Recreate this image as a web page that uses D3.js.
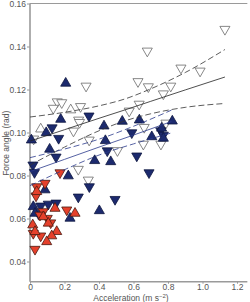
<!DOCTYPE html>
<html>
<head>
<meta charset="utf-8">
<script src="https://cdn.jsdelivr.net/npm/d3@7"></script>
<style>
  body { margin: 0; background: #fff; }
  svg { display: block; font-family: Arial, "Liberation Sans", sans-serif; }
</style>
</head>
<body>
<div id="chart"></div>
<script>
// points as [acceleration, force angle]
const redUp = [
  [0.039, 0.0725], [0.077, 0.0608], [0.261, 0.0624], [0.145, 0.0647],
  [0.016, 0.0570], [0.029, 0.0539], [0.155, 0.0539], [0.126, 0.0519],
  [0.097, 0.0492], [0.106, 0.0578]
];
const redDown = [
  [0.174, 0.0813], [0.087, 0.0764], [0.039, 0.0748], [0.035, 0.0705],
  [0.077, 0.0632], [0.058, 0.0616], [0.100, 0.0601], [0.120, 0.0580],
  [0.213, 0.0640], [0.019, 0.0531], [0.062, 0.0519], [0.029, 0.0457]
];
const navyUp = [
  [0.207, 0.1229], [0.178, 0.1061], [0.094, 0.0999], [0.008, 0.0965],
  [0.429, 0.1030], [0.535, 0.1052], [0.437, 0.0962], [0.114, 0.0922],
  [0.375, 0.0869], [0.468, 0.0864], [0.222, 0.0798], [0.087, 0.0733],
  [0.019, 0.0655], [0.029, 0.0624], [0.232, 0.0601], [0.402, 0.0636],
  [0.634, 0.1058], [0.825, 0.1053], [0.706, 0.0980], [0.763, 0.1020],
  [0.773, 0.0973]
];
const navyDown = [
  [0.342, 0.1077], [0.128, 0.1022], [0.166, 0.0973], [0.151, 0.0886],
  [0.448, 0.0915], [0.017, 0.0849], [0.026, 0.0814], [0.344, 0.0748],
  [0.280, 0.0700], [0.493, 0.0689], [0.062, 0.0658], [0.106, 0.0667],
  [0.151, 0.0672], [0.048, 0.0624], [0.590, 0.0999], [0.758, 0.1008],
  [0.773, 0.0988], [0.619, 0.0891], [0.690, 0.0813]
];
const whiteDown = [
  [1.130, 0.1480], [0.680, 0.1379], [0.875, 0.1300], [0.986, 0.1286],
  [0.626, 0.1237], [0.686, 0.1213], [0.816, 0.1216], [0.773, 0.1180],
  [0.633, 0.1132], [0.575, 0.1100], [0.662, 0.1024], [0.788, 0.1044],
  [0.657, 0.0946], [0.759, 0.0946], [0.325, 0.1216], [0.158, 0.1143],
  [0.184, 0.1139], [0.135, 0.1113], [0.293, 0.1121], [0.282, 0.1058],
  [0.287, 0.1047], [0.252, 0.1007], [0.021, 0.0970], [0.343, 0.0965],
  [0.507, 0.0916], [0.280, 0.0829], [0.338, 0.0779]
];
const whiteUp = [[0.236, 0.1105], [0.062, 0.1016]];

// fitted lines
const fitX = [0, 0.2, 0.4, 0.55, 0.7, 0.9, 1.13];
const fitMid = [0.0960, 0.1013, 0.1066, 0.1105, 0.1145, 0.1198, 0.1258];
const fitHi = [0.1072, 0.1094, 0.1124, 0.1156, 0.1203, 0.1279, 0.1386];
const fitLo = [0.0848, 0.0932, 0.1008, 0.1054, 0.1087, 0.1117, 0.1135];

const navyFitX = [0, 0.2, 0.4, 0.6, 0.82];
const navyMid = [0.0818, 0.0875, 0.0932, 0.0988, 0.1051];
const navyHi = [0.0883, 0.0923, 0.0969, 0.1029, 0.1104];
const navyLo = [0.0753, 0.0827, 0.0895, 0.0947, 0.0998];

const xTicks = [0, 0.2, 0.4, 0.6, 0.8, 1.0, 1.2];
const yTicks = [0.04, 0.06, 0.08, 0.10, 0.12, 0.14, 0.16];

const width = 250, height = 302;
const NAVY = '#1c2a6e', RED = '#e5402b';

const svg = d3.select('#chart').append('svg')
  .attr('width', width)
  .attr('height', height);

const x = d3.scaleLinear().domain([0, 1.2]).range([30, 237]);
const y = d3.scaleLinear().domain([0.04, 0.16]).range([261.5, 3.5]);
const xEnd = x(1.26);
const yBottom = y(0.0306);

// frame: left axis, bottom axis, top line
svg.append('line')
  .attr('x1', x(0)).attr('x2', xEnd)
  .attr('y1', y(0.16)).attr('y2', y(0.16))
  .attr('stroke', '#9a9a9a').attr('stroke-width', 1);

const yAxis = svg.append('g')
  .attr('transform', `translate(${x(0)},0)`)
  .call(d3.axisLeft(y).tickValues(yTicks).tickSize(3)
    .tickFormat(d3.format('.2f')));
yAxis.select('.domain').remove();
yAxis.append('line')
  .attr('x1', 0).attr('x2', 0)
  .attr('y1', y(0.16)).attr('y2', yBottom)
  .attr('stroke', '#9a9a9a').attr('stroke-width', 1.6);

const xAxis = svg.append('g')
  .attr('transform', `translate(0,${yBottom})`)
  .call(d3.axisBottom(x).tickValues(xTicks).tickSize(2)
    .tickFormat(d => d === 0 ? '0' : d3.format('.1f')(d)));
xAxis.select('.domain').remove();
xAxis.append('line')
  .attr('x1', x(0)).attr('x2', xEnd)
  .attr('y1', 0).attr('y2', 0)
  .attr('stroke', '#9a9a9a').attr('stroke-width', 1.4);

svg.selectAll('.tick line').attr('stroke', '#9a9a9a');
svg.selectAll('.tick text')
  .attr('fill', '#555')
  .style('font-size', '8.5px')
  .style('font-family', 'Arial, "Liberation Sans", sans-serif');
yAxis.selectAll('.tick text').attr('x', -4);
xAxis.selectAll('.tick text').attr('y', 2.5);

svg.append('text')
  .attr('transform', `translate(9,${y(0.095)}) rotate(-90)`)
  .attr('text-anchor', 'middle')
  .attr('fill', '#555')
  .style('font-size', '8.5px')
  .text('Force angle (rad)');

const xl = svg.append('text')
  .attr('x', 131).attr('y', 300.5)
  .attr('text-anchor', 'middle')
  .attr('fill', '#555')
  .style('font-size', '8.5px');
xl.append('tspan').text('Acceleration (m s');
xl.append('tspan').attr('dy', -3).style('font-size', '6px').text('\u22122');
xl.append('tspan').attr('dy', 3).text(')');

// markers
const tri = d3.symbol().type(d3.symbolTriangle).size(44);
function drawSet(data, down, fill, stroke) {
  svg.append('g').selectAll('path')
    .data(data)
    .join('path')
    .attr('d', tri)
    .attr('transform', d =>
      `translate(${x(d[0])},${y(d[1])})` + (down ? ' rotate(180)' : ''))
    .attr('fill', fill)
    .attr('stroke', stroke)
    .attr('stroke-width', 0.8);
}
drawSet(whiteDown, true, '#fff', '#6a6a6a');
drawSet(whiteUp, false, '#fff', '#6a6a6a');
drawSet(navyDown, true, NAVY, '#0e1640');
drawSet(navyUp, false, NAVY, '#0e1640');
drawSet(redDown, true, RED, '#4a1a12');
drawSet(redUp, false, RED, '#4a1a12');

// fit lines
function fitLine(xs, ys, color, dash) {
  svg.append('path')
    .datum(xs.map((v, i) => [v, ys[i]]))
    .attr('d', d3.line().curve(d3.curveMonotoneX)
      .x(d => x(d[0])).y(d => y(d[1])))
    .attr('fill', 'none')
    .attr('stroke', color)
    .attr('stroke-width', 0.8)
    .attr('stroke-dasharray', dash ? '6,3' : null);
}
fitLine(fitX, fitMid, '#222', false);
fitLine(fitX, fitHi, '#333', true);
fitLine(fitX, fitLo, '#333', true);
fitLine(navyFitX, navyMid, '#2b3a8c', false);
fitLine(navyFitX, navyHi, '#2b3a8c', true);
fitLine(navyFitX, navyLo, '#2b3a8c', true);
</script>
</body>
</html>
